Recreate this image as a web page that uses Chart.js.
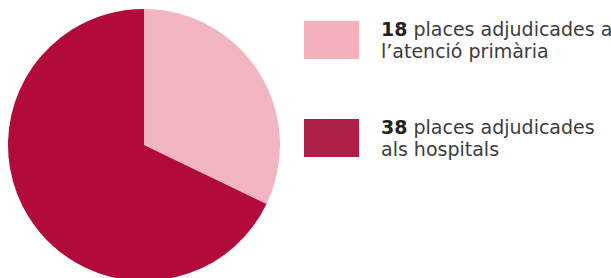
<!DOCTYPE html>
<html>
<head>
<meta charset="utf-8">
<script src="https://cdn.jsdelivr.net/npm/chart.js@4"></script>
<style>
  html, body { margin:0; padding:0; width:611px; height:278px; overflow:hidden; background:#fff; }
  #wrap { position:absolute; left:8px; top:9px; width:272px; height:272px; }
  #legend { position:absolute; left:304px; top:0; font-family: "DejaVu Sans", sans-serif; color:#333; }
  .item { position:absolute; left:0; width:320px; }
  .sw { position:absolute; left:0; width:55px; height:38px; }
  .txt { position:absolute; left:77px; top:-3px; font-size:19px; line-height:22px; white-space:nowrap; color:#3c3c3c; }
  .txt b { color:#222; font-weight:bold; }
</style>
</head>
<body>
<div id="wrap"><canvas id="c" width="272" height="272"></canvas></div>
<div id="legend"></div>
<script>
const values = [18, 38];
const numbers = ["18", "38"];
const labelLines = [
  [" places adjudicades a", "l’atenció primària"],
  [" places adjudicades", "als hospitals"]
];
const sliceColors = ["#F2B5C2", "#B30A3C"];
const legendColors = ["#F4B1BC", "#AE1F47"];
const legendTops = [21, 119];

new Chart(document.getElementById('c'), {
  type: 'pie',
  data: {
    labels: labelLines.map((l, i) => numbers[i] + l.join(' ')),
    datasets: [{ data: values, backgroundColor: sliceColors, borderWidth: 0, hoverOffset: 0 }]
  },
  options: {
    responsive: false,
    animation: false,
    events: [],
    layout: { padding: 0 },
    plugins: { legend: { display: false }, tooltip: { enabled: false } }
  }
});

const legend = document.getElementById('legend');
values.forEach((v, i) => {
  const item = document.createElement('div');
  item.className = 'item';
  item.style.top = legendTops[i] + 'px';
  const sw = document.createElement('div');
  sw.className = 'sw';
  sw.style.background = legendColors[i];
  const t = document.createElement('div');
  t.className = 'txt';
  const b = document.createElement('b');
  b.textContent = numbers[i];
  t.appendChild(b);
  t.appendChild(document.createTextNode(labelLines[i][0]));
  t.appendChild(document.createElement('br'));
  t.appendChild(document.createTextNode(labelLines[i][1]));
  item.appendChild(sw);
  item.appendChild(t);
  legend.appendChild(item);
});
</script>
</body>
</html>
